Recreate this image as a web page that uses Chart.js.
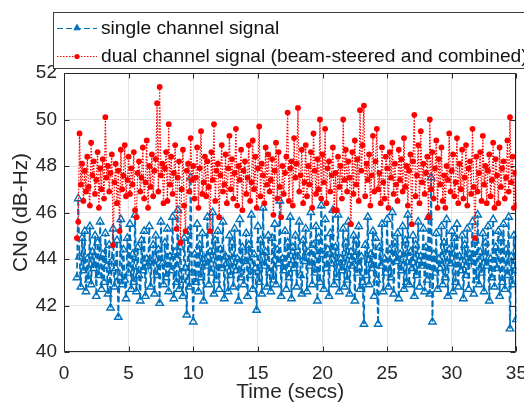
<!DOCTYPE html>
<html>
<head>
<meta charset="utf-8">
<script src="https://cdn.jsdelivr.net/npm/chart.js@4.4.1/dist/chart.umd.min.js"></script>
<style>
  html, body { margin: 0; padding: 0; background: #ffffff; overflow: hidden; width: 524px; height: 405px; }
  #wrap { width: 537px; height: 405px; }
</style>
</head>
<body>
<div id="wrap"><canvas id="c" width="537" height="405"></canvas></div>
<script>
// ---- data ----
const seriesLabels = ['single channel signal', 'dual channel signal (beam-steered and combined)'];
const startTime = 1.0;     // secs, first sample
const sampleStep = 0.1;    // secs between samples
const xTicks = [0, 5, 10, 15, 20, 25, 30, 35];
const yTicks = [40, 42, 44, 46, 48, 50, 52];

const singleChannel = [
  43.2, 46.6, 44.1, 42.8, 44.9, 43.5, 45.2, 42.6, 44.0, 43.1,
  45.4, 42.9, 44.3, 43.6, 45.0, 42.4, 44.7, 43.3, 45.6, 42.7,
  44.2, 43.0, 45.1, 43.7, 42.5, 44.6, 41.9, 43.9, 45.3, 42.8,
  43.6, 44.8, 41.5, 43.2, 45.7, 42.9, 44.4, 43.1, 42.3, 44.9,
  43.4, 45.5, 42.7, 44.2, 43.0, 45.9, 42.6, 44.5, 43.3, 42.2,
  44.8, 43.5, 45.2, 42.4, 44.0, 43.7, 45.4, 42.8, 43.9, 44.6,
  42.5, 45.0, 43.3, 44.4, 42.1, 45.6, 43.8, 42.9, 44.7, 43.2,
  45.3, 42.6, 44.1, 43.5, 45.8, 42.3, 44.3, 43.0, 46.1, 42.7,
  44.5, 43.1, 42.4, 44.9, 43.6, 41.6, 45.2, 42.8, 47.5, 43.4,
  41.3, 44.2, 43.0, 45.5, 42.6, 44.6, 43.2, 45.1, 42.2, 44.0,
  43.7, 45.8, 42.9, 44.3, 43.4, 46.0, 42.5, 44.8, 43.1, 45.2,
  42.7, 44.4, 43.6, 45.6, 42.3, 44.1, 43.8, 42.6, 45.0, 43.3,
  44.7, 42.8, 45.3, 43.5, 44.0, 42.2, 45.7, 43.2, 44.5, 42.9,
  43.9, 45.1, 42.4, 44.6, 43.3, 45.9, 42.7, 44.2, 43.6, 41.8,
  45.4, 43.0, 44.8, 42.5, 46.2, 43.7, 44.3, 42.8, 45.0, 43.4,
  42.6, 44.9, 43.1, 45.5, 42.9, 44.4, 43.8, 46.5, 42.4, 44.0,
  43.5, 45.2, 42.7, 44.7, 43.2, 45.8, 42.3, 44.5, 43.6, 45.0,
  42.8, 44.1, 45.6, 43.3, 42.5, 44.8, 43.9, 45.3, 42.6, 44.3,
  43.7, 46.0, 42.9, 44.6, 43.4, 45.4, 42.2, 44.9, 43.0, 46.3,
  44.2, 42.7, 45.7, 43.6, 44.4, 42.4, 45.1, 43.8, 46.1, 42.9,
  44.5, 43.2, 45.9, 42.6, 44.0, 43.5, 45.3, 42.8, 44.7, 43.1,
  45.6, 42.5, 44.3, 43.7, 45.0, 42.2, 44.8, 43.4, 45.4, 42.7,
  44.1, 43.0, 41.2, 44.6, 43.3, 45.8, 42.9, 44.2, 43.6, 45.2,
  42.4, 44.9, 43.1, 41.2, 44.5, 43.7, 45.5, 42.6, 44.0, 43.4,
  45.7, 42.8, 44.4, 43.2, 46.0, 42.5, 44.7, 43.9, 45.1, 42.3,
  44.2, 43.5, 45.4, 42.7, 44.8, 43.0, 45.9, 42.9, 44.3, 43.6,
  45.0, 42.4, 44.6, 43.3, 45.6, 42.8, 44.1, 43.7, 45.3, 42.6,
  44.5, 43.1, 45.8, 42.5, 47.5, 41.3, 44.2, 43.4, 45.1, 42.7,
  44.0, 43.6, 45.4, 42.9, 44.7, 43.2, 45.7, 42.4, 44.4, 43.8,
  45.2, 42.6, 44.9, 43.0, 45.5, 42.8, 44.1, 43.5, 45.0, 42.3,
  44.6, 43.3, 45.3, 42.7, 44.2, 43.9, 45.6, 42.5, 44.8, 43.1,
  45.9, 42.9, 44.3, 43.4, 45.1, 42.6, 44.7, 43.7, 45.4, 42.2,
  44.0, 43.2, 45.7, 42.8, 44.5, 43.6, 45.2, 42.4, 44.9, 43.0,
  45.5, 42.7, 44.4, 43.3, 45.8, 41.0, 44.1, 42.9, 45.0, 43.5,
  41.4
];

const dualChannel = [
  44.9, 45.6, 49.4, 47.2, 48.1, 46.5, 47.8, 46.9, 48.4, 47.1,
  46.3, 49.0, 47.6, 48.2, 46.8, 47.4, 48.6, 46.2, 47.9, 47.0,
  48.3, 46.6, 50.1, 47.5, 48.0, 46.9, 47.7, 48.5, 44.6, 47.3,
  48.1, 46.4, 47.8, 45.2, 48.7, 47.0, 47.6, 48.9, 46.7, 47.4,
  48.4, 46.8, 47.9, 47.2, 48.6, 46.1, 45.8, 47.7, 48.2, 46.9,
  47.5, 48.8, 46.6, 47.3, 49.1, 46.2, 48.0, 47.1, 48.5, 46.7,
  47.8, 48.3, 50.7, 46.9, 51.4, 47.6, 48.1, 46.4, 47.9, 48.6,
  46.5, 49.8, 47.2, 48.4, 46.8, 47.7, 48.9, 45.3, 47.5, 48.2,
  44.7, 47.0, 48.7, 46.3, 45.2, 47.8, 48.1, 46.9, 49.2, 47.4,
  48.0, 46.6, 47.5, 48.8, 46.2, 47.9, 49.5, 46.8, 47.3, 48.4,
  46.7, 48.2, 47.1, 45.2, 48.6, 47.4, 49.8, 46.5, 47.8, 48.1,
  45.8, 47.6, 48.9, 46.9, 47.2, 48.5, 46.4, 47.9, 49.3, 47.0,
  48.3, 46.6, 47.7, 49.6, 46.3, 48.0, 47.4, 48.7, 46.1, 47.8,
  48.2, 46.8, 47.5, 48.9, 46.5, 47.3, 49.1, 47.0, 48.4, 46.2,
  47.9, 49.7, 46.7, 48.1, 47.6, 46.4, 48.8, 47.2, 48.5, 46.9,
  47.4, 48.3, 45.9, 47.8, 49.0, 46.6, 48.6, 47.1, 45.8, 48.0,
  46.8, 47.7, 48.4, 50.3, 46.5, 47.9, 48.2, 46.3, 49.2, 47.5,
  48.1, 50.5, 46.9, 47.6, 48.7, 46.4, 47.3, 48.9, 46.7, 48.0,
  47.2, 48.6, 46.2, 49.4, 47.8, 46.8, 48.3, 47.0, 50.0, 46.6,
  48.5, 47.3, 49.6, 46.4, 47.9, 48.2, 46.9, 47.6, 48.8, 46.1,
  47.7, 46.1, 48.4, 47.1, 48.0, 46.6, 50.0, 47.4, 48.7, 46.9,
  48.2, 47.5, 45.5, 48.6, 46.8, 49.1, 47.2, 48.3, 46.5, 50.4,
  47.8, 48.9, 50.6, 46.7, 48.1, 47.4, 48.5, 46.3, 47.6, 49.3,
  46.9, 48.2, 49.6, 47.0, 47.7, 46.4, 48.8, 47.3, 46.6, 48.4,
  47.9, 46.2, 48.6, 47.5, 49.0, 46.8, 48.1, 47.2, 46.5, 48.7,
  47.4, 48.3, 46.9, 49.2, 47.1, 48.0, 46.3, 47.8, 48.5, 45.5,
  48.2, 50.2, 46.7, 47.6, 48.9, 46.4, 49.5, 47.3, 48.1, 46.8,
  47.7, 48.4, 45.8, 50.0, 47.0, 48.6, 46.6, 47.9, 49.1, 46.2,
  48.3, 47.2, 48.8, 46.5, 47.6, 46.2, 48.0, 47.4, 49.4, 46.9,
  47.8, 48.5, 46.7, 47.3, 49.2, 46.4, 48.1, 47.0, 48.7, 46.6,
  47.5, 48.9, 46.3, 47.9, 48.2, 46.8, 49.6, 47.1, 44.9, 48.4,
  46.9, 47.7, 48.6, 46.5, 49.3, 47.2, 48.0, 46.4, 47.8, 48.5,
  46.7, 47.4, 49.0, 46.2, 48.3, 47.6, 46.4, 48.8, 47.1, 47.9,
  48.2, 46.6, 47.5, 49.1, 46.9, 50.1, 47.3, 48.4, 46.2, 47.7,
  46.3
];

// ---- build library data ----
const toPoints = vals => vals.map((v, i) => ({ x: +(startTime + i * sampleStep).toFixed(1), y: v }));

const BLUE = '#0072BD';
const RED = '#FF0000';
const AXIS = '#262626';
const FONT = "'Liberation Sans', Arial, sans-serif";

const frameTicksPlugin = {
  id: 'frameTicks',
  afterDatasetsDraw(chart) {
    const { ctx, chartArea: a, scales: { x, y } } = chart;
    ctx.save();
    ctx.strokeStyle = AXIS;
    ctx.lineWidth = 1;
    ctx.setLineDash([]);
    const L = Math.round(a.left) + 0.5, R = Math.round(a.right) - 0.5;
    const T = Math.round(a.top) + 0.5, B = Math.round(a.bottom) - 0.5;
    const tl = 5;
    ctx.beginPath();
    ctx.rect(L, T, R - L, B - T);
    x.ticks.forEach(t => {
      const px = Math.round(x.getPixelForValue(t.value)) + 0.5;
      ctx.moveTo(px, B); ctx.lineTo(px, B - tl);
      ctx.moveTo(px, T); ctx.lineTo(px, T + tl);
    });
    y.ticks.forEach(t => {
      const py = Math.round(y.getPixelForValue(t.value)) + 0.5;
      ctx.moveTo(L, py); ctx.lineTo(L + tl, py);
      ctx.moveTo(R, py); ctx.lineTo(R - tl, py);
    });
    ctx.stroke();
    ctx.restore();
  }
};

function drawTriangle(ctx, cx, cy, r) {
  let rad = 0;
  ctx.beginPath();
  ctx.moveTo(cx + Math.sin(rad) * r, cy - Math.cos(rad) * r);
  rad += 2 * Math.PI / 3;
  ctx.lineTo(cx + Math.sin(rad) * r, cy - Math.cos(rad) * r);
  rad += 2 * Math.PI / 3;
  ctx.lineTo(cx + Math.sin(rad) * r, cy - Math.cos(rad) * r);
  ctx.closePath();
}

const boxLegendPlugin = {
  id: 'boxLegend',
  afterDraw(chart) {
    const ctx = chart.ctx;
    const ds = chart.data.datasets;
    ctx.save();
    ctx.fillStyle = '#ffffff';
    ctx.fillRect(53, 12, 490, 57);
    ctx.strokeStyle = '#3c3c3c';
    ctx.lineWidth = 1;
    ctx.strokeRect(53.5, 12.5, 490, 56);

    const rows = [28, 56];
    ctx.font = "19.2px " + FONT;
    ctx.textBaseline = 'middle';
    ctx.textAlign = 'left';
    ds.forEach((d, i) => {
      const yy = rows[i];
      ctx.strokeStyle = d.borderColor;
      ctx.lineWidth = Math.min(d.borderWidth, 1.2);
      ctx.setLineDash(d.borderDash || []);
      ctx.beginPath();
      ctx.moveTo(57, yy + 0.5);
      ctx.lineTo(97, yy + 0.5);
      ctx.stroke();
      ctx.setLineDash([]);
      if (d.pointStyle === 'triangle') {
        drawTriangle(ctx, 77, yy, 3.6);
        ctx.fillStyle = d.borderColor;
        ctx.fill();
        ctx.lineWidth = 1;
        ctx.strokeStyle = d.borderColor;
        ctx.stroke();
      } else {
        ctx.beginPath();
        ctx.arc(77, yy + 0.5, 2.6, 0, Math.PI * 2);
        ctx.fillStyle = d.pointBackgroundColor;
        ctx.fill();
      }
      ctx.fillStyle = '#111111';
      ctx.fillText(d.label, 101, yy + 1);
    });
    ctx.restore();
  }
};

new Chart(document.getElementById('c'), {
  type: 'line',
  data: {
    datasets: [
      {
        label: seriesLabels[0],
        data: toPoints(singleChannel),
        borderColor: BLUE,
        borderWidth: 1.8,
        borderDash: [6, 3],
        pointStyle: 'triangle',
        pointRadius: 4.3,
        pointBorderWidth: 1.4,
        pointBorderColor: BLUE,
        pointBackgroundColor: 'rgba(0,0,0,0)',
        tension: 0,
        order: 2
      },
      {
        label: seriesLabels[1],
        data: toPoints(dualChannel),
        borderColor: RED,
        borderWidth: 1.2,
        borderDash: [1.5, 1.5],
        pointStyle: 'circle',
        pointRadius: 2.9,
        pointBorderWidth: 0,
        pointBorderColor: RED,
        pointBackgroundColor: RED,
        tension: 0,
        order: 1
      }
    ]
  },
  options: {
    responsive: false,
    animation: false,
    devicePixelRatio: 1,
    layout: { padding: { top: 73, right: 0, bottom: 0, left: 0 } },
    plugins: { legend: { display: false }, tooltip: { enabled: false } },
    scales: {
      x: {
        type: 'linear',
        min: xTicks[0],
        max: xTicks[xTicks.length - 1],
        afterBuildTicks: s => { s.ticks = xTicks.map(v => ({ value: v })); },
        afterFit: s => { s.height = 53; },
        ticks: { font: { family: FONT, size: 19 }, color: AXIS, padding: 10, maxRotation: 0, autoSkip: false },
        grid: { color: '#e4e4e4', lineWidth: 1, drawTicks: false },
        border: { display: false },
        title: { display: true, text: 'Time (secs)', font: { family: FONT, size: 20.8 }, color: AXIS, padding: { top: 0, bottom: 0 } }
      },
      y: {
        type: 'linear',
        min: yTicks[0],
        max: yTicks[yTicks.length - 1],
        afterBuildTicks: s => { s.ticks = yTicks.map(v => ({ value: v })); },
        afterFit: s => { s.width = 64; },
        ticks: { font: { family: FONT, size: 19 }, color: AXIS, padding: 7 },
        grid: { color: '#e4e4e4', lineWidth: 1, drawTicks: false },
        border: { display: false },
        title: { display: true, text: 'CNo (dB-Hz)', font: { family: FONT, size: 20.8 }, color: AXIS, padding: { top: 9, bottom: 0 } }
      }
    }
  },
  plugins: [frameTicksPlugin, boxLegendPlugin]
});
</script>
</body>
</html>
